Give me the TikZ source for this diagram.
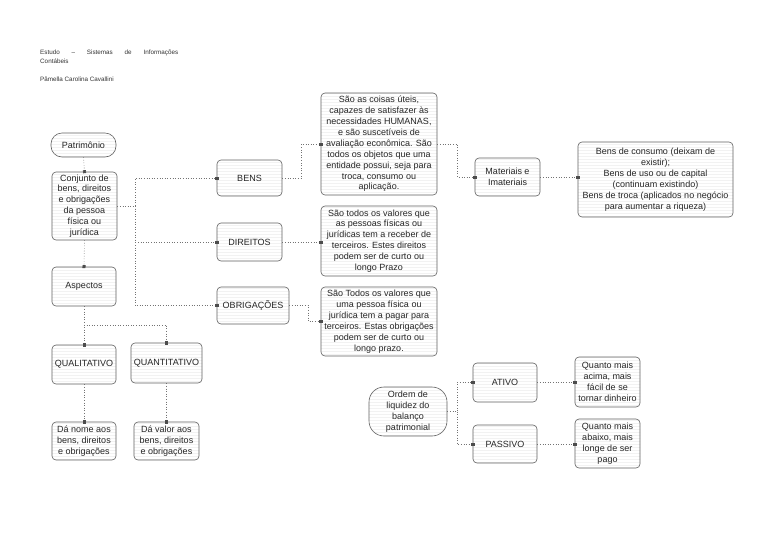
\documentclass[tikz,border=0pt]{standalone}
\usepackage{fontspec}
\setmainfont{Liberation Sans}
\usetikzlibrary{arrows.meta,patterns}
\begin{document}
\begin{tikzpicture}[x=1pt,y=-1pt,
  box/.style={draw=black!62, line width=0.6pt, rounded corners=4pt,
    pattern=horizontal lines, pattern color=black!5,
    align=center, inner sep=1pt, font=\fontsize{9}{10.9}\selectfont, text=black!85},
  stadium/.style={box, rounded corners=11pt},
  conn/.style={draw=black!55, dotted, line width=0.6pt,
    -{Square[length=3pt,width=3pt,fill=black!70,color=black!70]}, shorten >=-1.5pt},
  hdr/.style={anchor=base west, inner sep=0pt, font=\fontsize{6.3}{7.5}\selectfont, text=black!80}
]
\useasboundingbox (0,0) rectangle (768,544);
\fill[white] (0,0) rectangle (768,544);

% header
\node[hdr] (h1) at (40,54) {\makebox[138pt][s]{Estudo \, – \, Sistemas \, de \, Informações}};
\node[hdr] (h2) at (40,63) {Contábeis};
\node[hdr] (h3) at (40,81) {Pâmella Carolina Cavallini};

% left column
\node[stadium, minimum width=65pt, minimum height=24pt] (pat) at (83.5,145) {Patrimônio};
\node[box, minimum width=65pt, minimum height=68pt] (conj) at (84.5,206)
  {Conjunto de\\bens, direitos\\e obrigações\\da pessoa\\física ou\\jurídica};
\node[box, minimum width=64pt, minimum height=39pt] (asp) at (84,286.5) {Aspectos};
\node[box, minimum width=64pt, minimum height=39pt] (qual) at (84,364.5) {QUALITATIVO};
\node[box, minimum width=71pt, minimum height=40pt] (quant) at (166.5,363) {QUANTITATIVO};
\node[box, minimum width=64pt, minimum height=38pt] (danome) at (84,441)
  {Dá nome aos\\bens, direitos\\e obrigações};
\node[box, minimum width=65pt, minimum height=38pt] (davalor) at (166.5,441)
  {Dá valor aos\\bens, direitos\\e obrigações};

% middle
\node[box, minimum width=65pt, minimum height=36pt] (bens) at (249.5,178) {BENS};
\node[box, minimum width=65pt, minimum height=38pt] (dir) at (249.5,242) {DIREITOS};
\node[box, minimum width=72pt, minimum height=37pt] (obr) at (253,305.5) {OBRIGAÇÕES};

\node[box, minimum width=116pt, minimum height=102pt] (bensd) at (379,144)
  {São as coisas úteis,\\capazes de satisfazer às\\necessidades HUMANAS,\\e são suscetíveis de\\avaliação econômica. São\\todos os objetos que uma\\entidade possui, seja para\\troca, consumo ou\\aplicação.};
\node[box, minimum width=116pt, minimum height=70pt] (dird) at (379,241)
  {São todos os valores que\\as pessoas físicas ou\\jurídicas tem a receber de\\terceiros. Estes direitos\\podem ser de curto ou\\longo Prazo};
\node[box, minimum width=116pt, minimum height=69pt] (obrd) at (379,321.5)
  {São Todos os valores que\\uma pessoa física ou\\jurídica tem a pagar para\\terceiros. Estas obrigações\\podem ser de curto ou\\longo prazo.};

% right
\node[box, minimum width=65pt, minimum height=38pt] (mat) at (507.5,177) {Materiais e\\Imateriais};
\node[box, minimum width=155pt, minimum height=75pt] (big) at (655.5,179.5)
  {Bens de consumo (deixam de\\existir);\\Bens de uso ou de capital\\(continuam existindo)\\Bens de troca (aplicados no negócio\\para aumentar a riqueza)};

% bottom right
\node[stadium, rounded corners=15pt, minimum width=78pt, minimum height=49pt] (ordem) at (408,411.5)
  {Ordem de\\liquidez do\\balanço\\patrimonial};
\node[box, minimum width=64pt, minimum height=39pt] (ativo) at (505,382.5) {ATIVO};
\node[box, minimum width=64pt, minimum height=38pt] (passivo) at (505,444) {PASSIVO};
\node[box, minimum width=65pt, minimum height=50pt] (qacima) at (607.5,382)
  {Quanto mais\\acima, mais\\fácil de se\\tornar dinheiro};
\node[box, minimum width=65pt, minimum height=49pt] (qabaixo) at (607.5,443.5)
  {Quanto mais\\abaixo, mais\\longe de ser\\pago};

% connectors
\draw[conn] (pat.south) -- (conj.north);
\coordinate (trunk) at (135,206);
\draw[conn] (conj.east) -- (trunk) |- (bens.west);
\draw[conn] (trunk) |- (dir.west);
\draw[conn] (trunk) |- (obr.west);
\draw[conn] (bens.east) -- ++(19,0) |- (bensd.west);
\draw[conn] (dir.east) -- (dir.east -| dird.west);
\draw[conn] (obr.east) -- ++(19,0) |- (obrd.west);
\draw[conn] (bensd.east) -- ++(20,0) |- (mat.west);
\draw[conn] (mat.east) -- (mat.east -| big.west);

\draw[conn] (conj.south) -- (asp.north);
\coordinate (split) at (84,325);
\draw[conn] (asp.south) -- (qual.north);
\draw[conn] (split) -| (quant.north);
\draw[conn] (qual.south) -- (danome.north);
\draw[conn] (quant.south) -- (davalor.north);

\coordinate (ofork) at (457,411.5);
\draw[conn] (ordem.east) -- (ofork) |- (ativo.west);
\draw[conn] (ofork) |- (passivo.west);
\draw[conn] (ativo.east) -- (ativo.east -| qacima.west);
\draw[conn] (passivo.east) -- (passivo.east -| qabaixo.west);
\end{tikzpicture}
\end{document}
